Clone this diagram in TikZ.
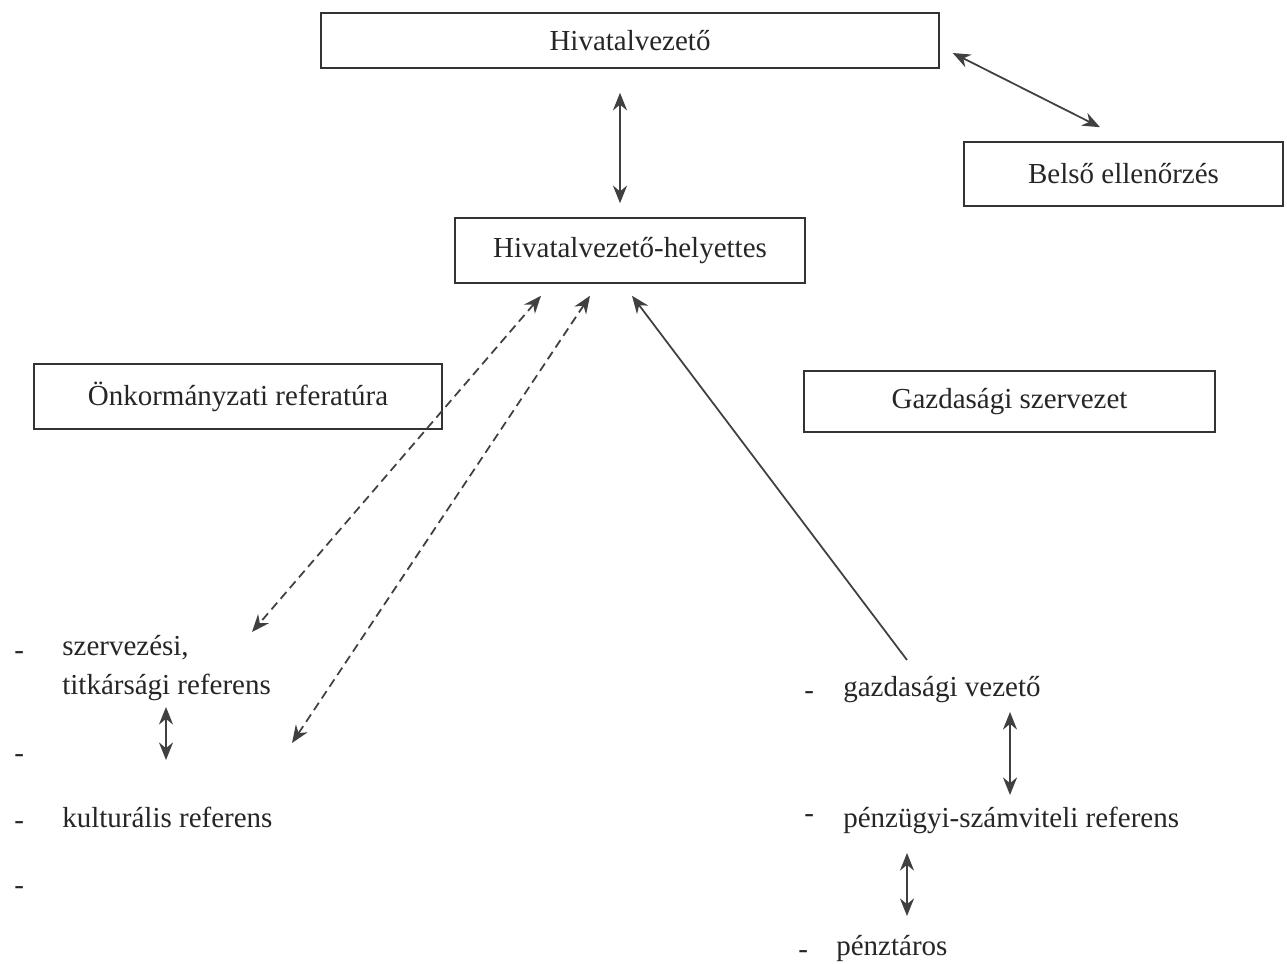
\documentclass[tikz,border=0pt]{standalone}
\usepackage{fontspec}
\setmainfont{Liberation Serif}
\usetikzlibrary{arrows.meta,calc}
\tikzset{
  boxnode/.style={draw=black!80, line width=0.9pt, inner sep=0pt, font=\fontsize{16.5}{20}\selectfont, text=black!85},
  plain/.style={inner sep=0pt, font=\fontsize{16.5}{22.5}\selectfont, text=black!85},
  conn/.style={draw=black!75, line width=1pt},
  both/.style={conn, {Stealth[length=10pt,width=8pt]}-{Stealth[length=10pt,width=8pt]}},
  dbl/.style={both, dash pattern=on 5pt off 3pt},
  single/.style={conn, -{Stealth[length=10pt,width=8pt]}}
}
\begin{document}
\begin{tikzpicture}[x=0.02cm,y=-0.02cm]
\useasboundingbox[fill=white] (0,0) rectangle (1287,963);
% boxes
\node[boxnode, minimum width=12.36cm, minimum height=1.1cm] (hv) at (630,40.5) {Hivatalvezető};
\node[boxnode, minimum width=6.38cm, minimum height=1.28cm] (be) at (1123.5,174) {Belső ellenőrzés};
\node[boxnode, minimum width=7.0cm, minimum height=1.3cm] (hvh) at (630,250.5) {Hivatalvezető-helyettes};
\node[boxnode, minimum width=8.16cm, minimum height=1.3cm] (onk) at (238,396.5) {Önkormányzati referatúra};
\node[boxnode, minimum width=8.22cm, minimum height=1.22cm] (gsz) at (1009.5,401.5) {Gazdasági szervezet};
% left list
\node[plain, anchor=west] (d1) at (14,656) {-};
\node[plain, anchor=west] (d2) at (14,759) {-};
\node[plain, anchor=west] (d3) at (14,826) {-};
\node[plain, anchor=west] (d4) at (14,891) {-};
\node[plain, anchor=west, align=left] (szt) at (62,668) {szervezési,\\titkársági referens};
\node[plain, anchor=west] (kul) at (62,817) {kulturális referens};
% right list
\node[plain, anchor=west] (d5) at (804,696) {-};
\node[plain, anchor=west] (d6) at (804,819) {-};
\node[plain, anchor=west] (d7) at (798,955) {-};
\node[plain, anchor=west] (gv) at (843,690) {gazdasági vezető};
\node[plain, anchor=west] (psz) at (843,820) {pénzügyi-számviteli referens};
\node[plain, anchor=west] (pt) at (836,948) {pénztáros};
% connectors
\draw[both] ($(hv.south)+(-10,24)$) -- ($(hvh.north)+(-10,-14)$);
\draw[both] ($(hv.east)+(13,12.5)$) -- ($(be.north)+(-23.5,-14)$);
\draw[dbl] ($(hvh.south)+(-89,12)$) -- ($(szt.west)+(190,-36)$);
\draw[dbl] ($(hvh.south)+(-40,12)$) -- ($(szt.west)+(230,75)$);
\draw[single] ($(gv.west)+(64,-30)$) -- ($(hvh.south)+(2,12)$);
\draw[both] ($(szt.west)+(104,39)$) -- ($(szt.west)+(104,92)$);
\draw[both] ($(gv.west)+(167,22)$) -- ($(psz.west)+(167,-25)$);
\draw[both] ($(psz.west)+(64,33)$) -- ($(pt.west)+(71,-32)$);
\end{tikzpicture}
\end{document}
